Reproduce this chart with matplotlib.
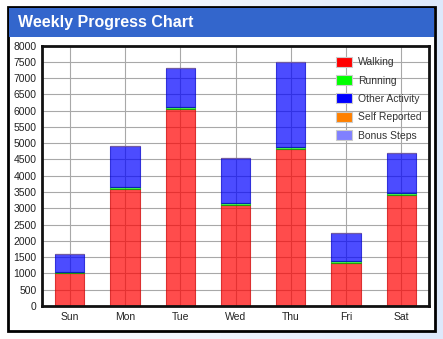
import numpy as np
import matplotlib.pyplot as plt
from matplotlib.patches import Rectangle

plt.rcParams['font.family'] = ['Liberation Sans', 'DejaVu Sans']

days = ['Sun', 'Mon', 'Tue', 'Wed', 'Thu', 'Fri', 'Sat']
walking = [1000, 3600, 6050, 3110, 4810, 1320, 3410]
running = [40, 40, 60, 50, 70, 50, 50]
other = [560, 1260, 1210, 1370, 2610, 885, 1230]
self_reported = [0, 0, 0, 0, 0, 0, 0]
bonus = [0, 0, 0, 0, 0, 0, 0]

series = [('Walking', walking, '#ff0000', '#cc0000'),
          ('Running', running, '#00ff00', '#00aa00'),
          ('Other Activity', other, '#0000ff', '#0000cc'),
          ('Self Reported', self_reported, '#ff8000', '#cc6600'),
          ('Bonus Steps', bonus, '#8080ff', '#6060cc')]

W, H = 443, 339
fig = plt.figure(figsize=(W / 100, H / 100), dpi=100)

# light blue gradient background
bg = fig.add_axes([0, 0, 1, 1])
grad = np.linspace(0, 1, 256).reshape(1, -1)
bg.imshow(grad, aspect='auto', cmap=plt.matplotlib.colors.LinearSegmentedColormap.from_list(
    'bg', ['#ffffff', '#dde9fb']), extent=[0, 1, 0, 1])
bg.set_axis_off()

def px(x0, y0, x1, y1):
    return [x0 / W, 1 - y1 / H, (x1 - x0) / W, (y1 - y0) / H]

# white panel with black frame and blue title bar
fig.patches.append(Rectangle((8 / W, 1 - 331 / H), 427 / W, 324 / H, transform=fig.transFigure,
                             facecolor='white', edgecolor='black', linewidth=2, zorder=1))
fig.patches.append(Rectangle((9 / W, 1 - 37 / H), 425 / W, 29 / H, transform=fig.transFigure,
                             facecolor='#3366cc', edgecolor='none', zorder=2))
fig.text(18 / W, 1 - 22.5 / H, 'Weekly Progress Chart', color='white', fontsize=11.5,
         fontweight='bold', va='center', ha='left', zorder=3)

ax = fig.add_axes(px(42, 45.5, 429, 306))
ax.set_zorder(5)
x = np.arange(len(days))
bottom = np.zeros(len(days))
handles = []
for name, vals, col, edge in series:
    vals = np.array(vals, dtype=float)
    ax.bar(x, vals, 0.53, bottom=bottom, color=col, alpha=0.7, edgecolor=edge, linewidth=0.8, zorder=2)
    bottom += vals
    handles.append(Rectangle((0, 0), 1, 1, facecolor=col, edgecolor='#cccccc', linewidth=0.8, label=name))

ax.set_xlim(-0.5, len(days) - 0.5)
ax.set_ylim(0, 8000)
ax.set_yticks(np.arange(0, 8001, 500))
ax.set_xticks(x)
ax.set_xticklabels(days)
ax.grid(True, color='#a8a8a8', linewidth=0.8, zorder=0)
ax.set_axisbelow(True)
ax.tick_params(length=0, labelsize=7.5, colors='#222222', pad=4)
for s in ax.spines.values():
    s.set_linewidth(2)
    s.set_color('#111111')

leg = ax.legend(handles=handles, loc='upper right', bbox_to_anchor=(1.0, 0.985), frameon=False,
                fontsize=7.5, handlelength=1.5, handleheight=1.1, labelspacing=0.75,
                handletextpad=0.6, borderaxespad=0.3)
for t in leg.get_texts():
    t.set_color('#333333')

fig.savefig('out.png', dpi=100)
